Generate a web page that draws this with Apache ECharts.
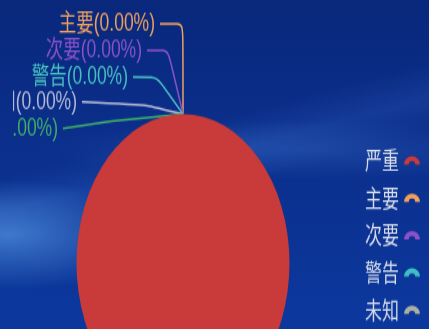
<!DOCTYPE html>
<html>
<head>
<meta charset="utf-8">
<script src="https://cdn.jsdelivr.net/npm/echarts@6/dist/echarts.min.js"></script>
<style>
  html, body { margin: 0; padding: 0; width: 429px; height: 329px; overflow: hidden; }
  body {
    background:
      radial-gradient(ellipse 150px 55px at 10px 235px, rgba(110,185,255,0.5), rgba(110,185,255,0) 100%),
      radial-gradient(ellipse 260px 30px at 300px 150px, rgba(90,150,240,0.2), rgba(90,150,240,0) 100%),
      linear-gradient(165deg, rgba(0,0,0,0) 40%, rgba(70,130,230,0.16) 48%, rgba(0,0,0,0) 56%),
      linear-gradient(180deg, #09287c 0%, #0b2f8c 45%, #0c389e 100%);
  }
  #wrap { position: absolute; left: 13px; top: 0; width: 416px; height: 235px; transform: scaleY(1.4); transform-origin: 0 0; overflow: hidden; }
  #chart { width: 416px; height: 235px; }
</style>
</head>
<body>
<div id="wrap"><div id="chart"></div></div>
<script>
// ---- data ----
const categories = ['严重', '主要', '次要', '警告', '未知', '清除'];
const values = [26, 0, 0, 0, 0, 0];
// ---- palette ----
const palette = ['#c93a3a', '#f0a05a', '#8d50c8', '#3fbfc4', '#a9b0a4', '#3aae6a'];
const labelColors = ['#c93a3a', '#eea060', '#8a52c8', '#45c0c0', '#b4bad6', '#3fae6c'];

// label placement offsets (relative to the slice anchor the library computes)
const labelDy  = [-64.6, -45.6, -26.4, -8.8, 10.2];
const elbowDx  = [0, -15, -26, -36, -73];
const elbowDy  = [-64.6, -45.6, -26.4, -6.5, 5];
const endDx    = [-23, -36, -50, -101, -120];

const chart = echarts.init(document.getElementById('chart'), null, { renderer: 'canvas' });

const seriesData = categories.map((name, i) => ({
  name: name,
  value: values[i],
  label: i === 0 ? { show: false } : { color: labelColors[i] },
  labelLine: i === 0 ? { show: false } : { lineStyle: { color: labelColors[i] } }
}));

chart.setOption({
  animation: false,
  color: palette,
  legend: {
    orient: 'vertical',
    right: 4,
    top: 101,
    height: 220,
    align: 'right',
    itemGap: 9.7,
    itemWidth: 16,
    itemHeight: 6,
    itemTextGap: 4,
    symbolKeepAspect: false,
    icon: 'path://M0,10 A10,10 0 0 1 20,10 L14,10 A4,4 0 0 0 6,10 Z',
    textStyle: { color: '#d5dcea', fontSize: 17, fontFamily: 'Noto Sans CJK SC' },
    data: categories
  },
  series: [{
    type: 'pie',
    center: [170, 188],
    radius: 106.5,
    startAngle: 90,
    avoidLabelOverlap: false,
    label: {
      show: true,
      formatter: function (p) { return p.name + '(' + p.percent.toFixed(2) + '%)'; },
      fontSize: 17.5,
      fontFamily: '"Liberation Sans", "Noto Sans CJK SC"',
      textBorderWidth: 0
    },
    labelLine: {
      show: true,
      length: 60,
      length2: 22,
      smooth: 0.15,
      lineStyle: { width: 1.5 }
    },
    labelLayout: function (params) {
      const k = params.dataIndex - 1;
      if (k < 0 || !params.labelLinePoints) return {};
      const ax = params.labelLinePoints[0][0];
      const ay = params.labelLinePoints[0][1];
      return {
        x: ax + endDx[k] - 5,
        y: ay + labelDy[k],
        align: 'right',
        verticalAlign: 'middle',
        labelLinePoints: [
          [ax, ay],
          [ax + elbowDx[k], ay + elbowDy[k]],
          [ax + endDx[k], ay + labelDy[k]]
        ]
      };
    },
    itemStyle: { borderWidth: 0 },
    data: seriesData
  }]
});
</script>
</body>
</html>
